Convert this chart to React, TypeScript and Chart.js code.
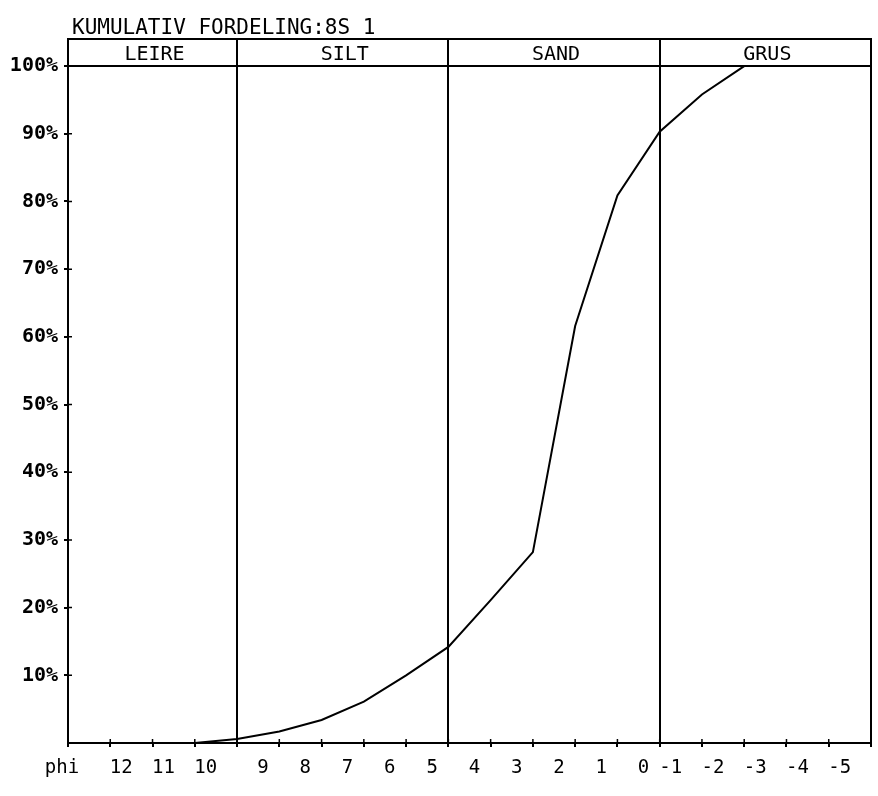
import { useEffect, useRef } from 'react';
import { Chart, registerables } from 'chart.js';

Chart.register(...registerables);

const titleText = 'KUMULATIV FORDELING:8S 1';
const axisName = 'phi';
const phiValues = [12, 11, 10, 9, 8, 7, 6, 5, 4, 3, 2, 1, 0, -1, -2, -3];
const cumulativePct = [0, 0, 0, 0.6, 1.7, 3.4, 6.1, 10.0, 14.2, 21.1, 28.2, 61.6, 80.9, 90.3, 95.8, 100];
const classNames = ['LEIRE', 'SILT', 'SAND', 'GRUS'];
const classBounds = [13, 9, 4, -1, -6];
const phiTickValues = [12, 11, 10, 9, 8, 7, 6, 5, 4, 3, 2, 1, 0, -1, -2, -3, -4, -5];
const phiTickLabels = ['12', '11', '10', '9', '8', '7', '6', '5', '4', '3', '2', '1', '0', '-1', '-2', '-3', '-4', '-5'];
const yTickValues = [10, 20, 30, 40, 50, 60, 70, 80, 90, 100];

const FONT = '"DejaVu Sans Mono", "Liberation Mono", monospace';

const overlay = {
  id: 'overlay',
  afterDraw(chart: any) {
    const { ctx, chartArea: a, scales } = chart;
    const xs = scales.x;
    const ys = scales.y;
    ctx.save();
    ctx.strokeStyle = '#000';
    ctx.fillStyle = '#000';
    ctx.lineWidth = 2;
    ctx.beginPath();
    ctx.moveTo(a.left, a.top);
    ctx.lineTo(a.right, a.top);
    ctx.lineTo(a.right, a.bottom);
    ctx.stroke();

    ctx.lineWidth = 1.5;
    ctx.beginPath();
    phiTickValues.forEach((v) => {
      const px = xs.getPixelForValue(v);
      ctx.moveTo(px, a.bottom - 4);
      ctx.lineTo(px, a.bottom);
    });
    yTickValues.forEach((v) => {
      const py = ys.getPixelForValue(v);
      ctx.moveTo(a.left, py);
      ctx.lineTo(a.left + 4, py);
    });
    ctx.stroke();

    const y100 = ys.getPixelForValue(100);
    ctx.font = '20px ' + FONT;
    ctx.textAlign = 'center';
    ctx.textBaseline = 'middle';
    classNames.forEach((n, i) => {
      const cx = (xs.getPixelForValue(classBounds[i]) + xs.getPixelForValue(classBounds[i + 1])) / 2;
      ctx.fillText(n, cx + 2, (a.top + y100) / 2 + 2);
    });

    ctx.font = '21px ' + FONT;
    ctx.textAlign = 'left';
    ctx.textBaseline = 'alphabetic';
    ctx.fillText(titleText, a.left + 4, a.top - 5);

    ctx.font = '19px ' + FONT;
    ctx.textAlign = 'center';
    ctx.textBaseline = 'middle';
    const ly = a.bottom + 25;
    ctx.fillText(axisName, a.left - 6, ly);
    phiTickValues.forEach((v, i) => {
      const lab = phiTickLabels[i];
      const off = lab.length === 1 ? 26 : 11;
      ctx.fillText(lab, xs.getPixelForValue(v) + off, ly);
    });
    ctx.restore();
  },
};

export default function App() {
  const ref = useRef<HTMLCanvasElement | null>(null);
  useEffect(() => {
    if (!ref.current) return;
    Chart.defaults.color = '#000';
    const chart = new Chart(ref.current, {
      type: 'line',
      data: {
        datasets: [
          {
            data: phiValues.map((p, i) => ({ x: p, y: cumulativePct[i] })),
            borderColor: '#000',
            borderWidth: 2,
            pointRadius: 0,
            tension: 0,
            fill: false,
          },
        ],
      },
      options: {
        animation: false,
        responsive: false,
        devicePixelRatio: 1,
        layout: { padding: { top: 39, right: 7, left: 0, bottom: 0 } },
        plugins: { legend: { display: false }, tooltip: { enabled: false }, title: { display: false } },
        scales: {
          x: {
            type: 'linear',
            reverse: true,
            min: -6,
            max: 13,
            afterBuildTicks: (s: any) => {
              const t = [];
              for (let v = classBounds[classBounds.length - 1]; v <= classBounds[0]; v++) t.push({ value: v });
              s.ticks = t;
            },
            afterFit: (s: any) => {
              s.height = 53;
            },
            ticks: { display: false },
            grid: {
              color: (c: any) => (c.tick && classBounds.slice(1, -1).includes(c.tick.value) ? '#000' : 'rgba(0,0,0,0)'),
              lineWidth: 2,
              tickColor: '#000',
              tickLength: 4,
              drawTicks: true,
            },
            border: { display: true, color: '#000', width: 2 },
          },
          y: {
            type: 'linear',
            min: 0,
            max: 104,
            afterBuildTicks: (s: any) => {
              s.ticks = yTickValues.map((v) => ({ value: v }));
            },
            afterFit: (s: any) => {
              s.width = 68;
            },
            ticks: {
              callback: (v: any) => v + '%',
              font: { family: FONT, size: 20, weight: 'bold' },
              color: '#000',
              padding: 6,
            },
            grid: {
              color: (c: any) => (c.tick && c.tick.value === 100 ? '#000' : 'rgba(0,0,0,0)'),
              lineWidth: 2,
              tickColor: '#000',
              tickLength: 4,
            },
            border: { display: true, color: '#000', width: 2 },
          },
        },
      },
      plugins: [overlay],
    } as any);
    return () => chart.destroy();
  }, []);
  return (
    <div style={{ position: 'absolute', left: 0, top: 0, width: 878, height: 796, background: '#fff' }}>
      <canvas ref={ref} width={878} height={796} />
    </div>
  );
}
